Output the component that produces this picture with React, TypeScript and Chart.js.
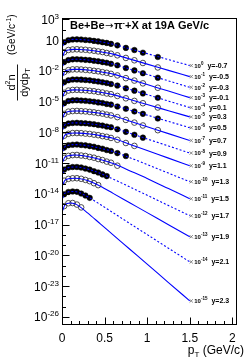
import React, { useEffect, useRef } from "react";
import { Chart, registerables } from "chart.js";

Chart.register(...registerables);

// ---------- data ----------
const rapidityLabels = ["-0.7", "-0.5", "-0.3", "-0.1", "0.1", "0.3", "0.5", "0.7", "0.9", "1.1", "1.3", "1.5", "1.7", "1.9", "2.1", "2.3"];
const scaleExponents = [0, -1, -2, -3, -4, -5, -6, -7, -8, -9, -10, -11, -12, -13, -14, -15];

const dataPt = [0.025, 0.075, 0.125, 0.175, 0.225, 0.275, 0.325, 0.375, 0.425, 0.475, 0.525, 0.575, 0.65, 0.75, 0.85, 0.95, 1.125];
const fitPt = [0.01, 0.03, 0.06, 0.1, 0.15, 0.2, 0.3, 0.45, 0.6, 0.8, 1.0, 1.25, 1.5];

// measured points (unscaled)
const dataYm07 = [6.1, 9.6, 11.3, 11.4, 11.1, 10.1, 9.4, 8.2, 7.3, 6.1, 5.2, 4.2, 3.0, 1.7, 1.05, 0.58, 0.22];
const dataYm05 = [6.4, 10.6, 11.9, 12.4, 11.6, 11.1, 9.9, 9.0, 7.7, 6.7, 5.4, 4.6, 3.2, 1.78, 1.05, 0.57, 0.21];
const dataYm03 = [7.0, 11.0, 13.0, 13.1, 12.7, 11.6, 10.8, 9.4, 8.4, 7.0, 6.0, 4.8, 3.4, 1.85, 1.08, 0.57, 0.21];
const dataYm01 = [7.3, 11.5, 13.6, 13.7, 13.3, 12.2, 11.3, 9.9, 8.8, 7.3, 6.3, 5.0, 3.5, 1.9, 1.1, 0.59, 0.22];
const dataYp01 = [7.5, 11.8, 13.9, 14.0, 13.6, 12.5, 11.6, 10.1, 9.0, 7.5, 6.4, 5.1, 3.6, 1.95, 1.15, 0.62, 0.23];
const dataYp03 = [7.1, 11.8, 13.4, 13.9, 13.1, 12.4, 11.1, 10.1, 8.6, 7.5, 6.1, 5.2, 3.5, 2.05, 1.15, 0.68, 0.26];
const dataYp05 = [6.8, 11.3, 12.8, 13.3, 12.5, 11.8, 10.6, 9.6, 8.2, 7.2, 5.8, 5.0, 3.3, 1.95, 1.07, 0.63, 0.22];
const dataYp07 = [6.2, 10.3, 11.6, 12.1, 11.4, 10.8, 9.7, 8.8, 7.5, 6.6, 5.3, 4.4, 3.0, 1.6, 0.88, 0.46, 0.16];
const dataYp09 = [4.3, 7.2, 8.0, 8.4, 7.8, 7.5, 6.7, 6.1, 5.1, 4.5, 3.6, 3.1, 2.0, 1.1, 0.57, 0.3];
const dataYp11 = [4.6, 7.1, 8.4, 8.4, 8.2, 7.4, 6.9, 5.9, 5.2, 4.2, 3.6, 2.8, 1.85, 0.9, 0.47];
const dataYp13 = [3.2, 5.5, 6.1, 6.4, 5.8, 5.3, 4.5, 3.9, 3.0, 2.5, 1.85, 1.5, 0.93, 0.48];
const dataYp15 = [3.2, 5.0, 5.9, 6.1, 5.4, 4.9, 3.9, 3.3, 2.45, 1.95, 1.38, 1.07, 0.55];
const dataYp17 = [2.3, 3.6, 4.1, 4.1, 3.7, 2.9, 2.3, 1.6, 1.2, 0.78, 0.53];
const dataYp19 = [1.9, 2.85, 3.25, 3.3, 2.9, 2.25, 1.7, 1.08, 0.7];
const dataYp21 = [0.89, 1.51, 1.7, 1.55, 1.05, 0.68, 0.4];
const dataYp23 = [0.63, 1.2, 1.26, 0.89, 0.47];

// fitted curves (unscaled)
const fitYm07 = [2.6, 6.6, 9.1, 10.7, 11.5, 11.2, 9.8, 6.8, 3.9, 1.35, 0.47, 0.123, 0.032];
const fitYm05 = [2.75, 7.1, 9.8, 11.5, 12.3, 12.0, 10.5, 7.2, 4.2, 1.36, 0.444, 0.109, 0.0269];
const fitYm03 = [2.95, 7.6, 10.5, 12.3, 13.2, 12.9, 11.2, 7.8, 4.5, 1.4, 0.438, 0.103, 0.024];
const fitYm01 = [3.1, 7.9, 11.0, 12.9, 13.8, 13.5, 11.7, 8.1, 4.7, 1.45, 0.449, 0.104, 0.024];
const fitYp01 = [3.16, 8.1, 11.2, 13.2, 14.1, 13.8, 12.0, 8.3, 4.8, 1.5, 0.47, 0.11, 0.0257];
const fitYp03 = [3.1, 7.9, 11.0, 12.9, 13.8, 13.5, 11.7, 8.1, 4.7, 1.54, 0.51, 0.127, 0.0316];
const fitYp05 = [2.95, 7.6, 10.5, 12.3, 13.2, 12.9, 11.2, 7.8, 4.5, 1.45, 0.47, 0.115, 0.028];
const fitYp07 = [2.7, 6.9, 9.5, 11.2, 12.0, 11.7, 10.2, 7.1, 4.1, 1.19, 0.346, 0.074, 0.0158];
const fitYp09 = [1.86, 4.8, 6.6, 7.8, 8.3, 8.1, 7.1, 4.9, 2.8, 0.79, 0.224, 0.046, 0.0095];
const fitYp11 = [1.9, 4.9, 6.8, 7.9, 8.5, 8.3, 7.1, 4.75, 2.57, 0.65, 0.167, 0.03, 0.0055];
const fitYp13 = [1.41, 3.6, 5.0, 5.9, 6.3, 6.1, 4.9, 2.75, 1.32, 0.32, 0.071, 0.0105, 0.0015];
const fitYp15 = [1.35, 3.5, 4.8, 5.6, 6.0, 5.75, 4.4, 2.2, 0.89, 0.17, 0.0316, 0.0032, 0.00033];
const fitYp17 = [0.93, 2.4, 3.3, 3.9, 4.17, 3.98, 2.63, 0.98, 0.275, 0.045, 0.0072, 0.00072, 7.2e-5];
const fitYp19 = [0.71, 1.9, 2.63, 3.1, 3.31, 3.1, 1.95, 0.55, 0.11, 0.0126, 0.00145, 9.5e-5, 6.5e-6];
const fitYp21 = [0.38, 1.0, 1.38, 1.66, 1.66, 1.32, 0.525, 0.089, 0.0141, 0.0012, 1.05e-4, 4.9e-6, 2.3e-7];
const fitYp23 = [0.25, 0.71, 1.12, 1.26, 1.05, 0.63, 0.138, 0.0117, 0.001, 3.7e-5, 1.38e-6, 2.2e-8, 3.6e-10];

const pointSeries = [dataYm07, dataYm05, dataYm03, dataYm01, dataYp01, dataYp03, dataYp05, dataYp07, dataYp09, dataYp11, dataYp13, dataYp15, dataYp17, dataYp19, dataYp21, dataYp23];
const fitSeries = [fitYm07, fitYm05, fitYm03, fitYm01, fitYp01, fitYp03, fitYp05, fitYp07, fitYp09, fitYp11, fitYp13, fitYp15, fitYp17, fitYp19, fitYp21, fitYp23];

const xTickValues = [0, 0.5, 1, 1.5, 2];
const xTickLabels = ["0", "0.5", "1", "1.5", "2"];
const yTickExponents = [-26, -23, -20, -17, -14, -11, -8, -5, -2, 1, 3];

const FONT = '"Liberation Sans", Arial, Helvetica, sans-serif';
const SYMBOL_FONT = '"DejaVu Sans", sans-serif';
const BLUE = "#0000ff";

function textWithSup(ctx: CanvasRenderingContext2D, x: number, y: number, base: string, sup: string, size: number, supSize: number, weight: string, align: "left" | "right", raise: number) {
  ctx.font = `${weight} ${size}px ${FONT}`;
  const wb = ctx.measureText(base).width;
  ctx.font = `${weight} ${supSize}px ${FONT}`;
  const ws = sup ? ctx.measureText(sup).width : 0;
  const x0 = align === "right" ? x - wb - ws : x;
  ctx.textAlign = "left";
  ctx.textBaseline = "alphabetic";
  ctx.font = `${weight} ${size}px ${FONT}`;
  ctx.fillText(base, x0, y);
  if (sup) {
    ctx.font = `${weight} ${supSize}px ${FONT}`;
    ctx.fillText(sup, x0 + wb, y - raise);
  }
  return x0 + wb + ws;
}

const rootStyle = {
  id: "rootStyle",
  afterDatasetsDraw(chart: any) {
    const { ctx, chartArea: a, scales } = chart;
    const xs = scales.x;
    const ys = scales.y;
    ctx.save();
    ctx.fillStyle = "#000";
    ctx.strokeStyle = "#000";
    ctx.lineWidth = 1;

    // frame
    ctx.strokeRect(Math.round(a.left) + 0.5, Math.round(a.top) + 0.5, Math.round(a.right - a.left), Math.round(a.bottom - a.top));

    // x ticks
    const bottom = Math.round(a.bottom) + 0.5;
    for (let i = 0; i <= 20; i++) {
      const v = i / 10;
      const px = Math.round(xs.getPixelForValue(v)) + 0.5;
      const len = i % 5 === 0 ? 7 : 3.5;
      ctx.beginPath();
      ctx.moveTo(px, bottom);
      ctx.lineTo(px, bottom - len);
      ctx.stroke();
    }
    // y ticks
    const left = Math.round(a.left) + 0.5;
    for (let e = -26; e <= 3; e++) {
      const py = Math.round(ys.getPixelForValue(Math.pow(10, e))) + 0.5;
      const major = yTickExponents.includes(e);
      ctx.beginPath();
      ctx.moveTo(left, py);
      ctx.lineTo(left + (major ? 7 : 3.5), py);
      ctx.stroke();
    }

    // x tick labels
    ctx.font = `12px ${FONT}`;
    ctx.textAlign = "center";
    ctx.textBaseline = "alphabetic";
    xTickValues.forEach((v, i) => {
      ctx.fillText(xTickLabels[i], xs.getPixelForValue(v), 341.5);
    });

    // y tick labels
    yTickExponents.forEach((e) => {
      const py = ys.getPixelForValue(Math.pow(10, e));
      const sup = e === 1 ? "" : String(e);
      textWithSup(ctx, 59, py + 4.5, "10", sup, 12, 8, "normal", "right", 5);
    });

    // x axis title
    {
      ctx.font = `12px ${FONT}`;
      const w1 = ctx.measureText("p").width;
      const w3 = ctx.measureText(" (GeV/c)").width;
      ctx.font = `8px ${FONT}`;
      const w2 = ctx.measureText("T").width;
      const right = 244;
      const x0 = right - w1 - w2 - w3;
      const base = 354;
      ctx.textAlign = "left";
      ctx.font = `12px ${FONT}`;
      ctx.fillText("p", x0, base);
      ctx.font = `8px ${FONT}`;
      ctx.fillText("T", x0 + w1, base + 3);
      ctx.font = `12px ${FONT}`;
      ctx.fillText(" (GeV/c)", x0 + w1 + w2, base);
    }

    // y axis title (rotated)
    {
      ctx.save();
      ctx.rotate(-Math.PI / 2);
      // local (u, v) = (-screenY, screenX)
      ctx.textAlign = "left";
      ctx.font = `10px ${FONT}`;
      let u = -55;
      ctx.fillText("(GeV/c", u, 15);
      u += ctx.measureText("(GeV/c").width;
      ctx.font = `7px ${FONT}`;
      ctx.fillText("-1", u, 11);
      u += ctx.measureText("-1").width;
      ctx.font = `10px ${FONT}`;
      ctx.fillText(")", u, 15);

      // numerator d^2 n
      ctx.font = `11px ${FONT}`;
      const wd = ctx.measureText("d").width;
      const wn = ctx.measureText("n").width;
      ctx.font = `7px ${FONT}`;
      const w2 = ctx.measureText("2").width;
      const numW = wd + w2 + wn;
      const un = -82.5 - numW / 2;
      ctx.font = `11px ${FONT}`;
      ctx.fillText("d", un, 14.5);
      ctx.font = `7px ${FONT}`;
      ctx.fillText("2", un + wd, 10);
      ctx.font = `11px ${FONT}`;
      ctx.fillText("n", un + wd + w2, 14.5);

      // fraction bar
      ctx.lineWidth = 0.9;
      ctx.beginPath();
      ctx.moveTo(-100.5, 17.5);
      ctx.lineTo(-64.5, 17.5);
      ctx.stroke();

      // denominator dydp_T
      ctx.font = `11px ${FONT}`;
      const wdd = ctx.measureText("dydp").width;
      ctx.font = `8px ${FONT}`;
      const wt = ctx.measureText("T").width;
      const ud = -82.5 - (wdd + wt) / 2;
      ctx.font = `11px ${FONT}`;
      ctx.fillText("dydp", ud, 27.5);
      ctx.font = `8px ${FONT}`;
      ctx.fillText("T", ud + wdd, 30);
      ctx.restore();
    }

    // title
    {
      const base = 29;
      let x = 70;
      ctx.textAlign = "left";
      ctx.font = `bold 11px ${FONT}`;
      ctx.fillText("Be+Be", x, base);
      x += ctx.measureText("Be+Be").width + 0.5;
      ctx.font = `10px ${SYMBOL_FONT}`;
      ctx.fillText("\u2192", x, base - 0.5);
      x += ctx.measureText("\u2192").width + 0.5;
      ctx.font = `bold 11px ${FONT}`;
      ctx.fillText("\u03c0", x, base);
      x += ctx.measureText("\u03c0").width;
      ctx.font = `bold 8px ${FONT}`;
      ctx.fillText("-", x, base - 4.5);
      x += ctx.measureText("-").width;
      ctx.font = `bold 11px ${FONT}`;
      ctx.fillText("+X at 19A GeV/c", x, base);
    }

    // series labels at the end of every fit curve
    fitSeries.forEach((f, k) => {
      const ex = xs.getPixelForValue(fitPt[fitPt.length - 1]);
      const ey = ys.getPixelForValue(f[f.length - 1] * Math.pow(10, scaleExponents[k]));
      ctx.strokeStyle = "#666";
      ctx.lineWidth = 0.8;
      const cx = ex + 1.5;
      ctx.beginPath();
      ctx.moveTo(cx - 1.6, ey - 1.6);
      ctx.lineTo(cx + 1.6, ey + 1.6);
      ctx.moveTo(cx - 1.6, ey + 1.6);
      ctx.lineTo(cx + 1.6, ey - 1.6);
      ctx.stroke();
      ctx.fillStyle = "#000";
      const end = textWithSup(ctx, ex + 4.5, ey + 2.3, "10", String(scaleExponents[k]), 6, 4.5, "bold", "left", 2.8);
      ctx.font = `bold 7px ${FONT}`;
      ctx.textAlign = "left";
      ctx.fillText("y=" + rapidityLabels[k], end + 4, ey + 2.5);
    });

    ctx.restore();
  },
};

export default function App() {
  const canvasRef = useRef<HTMLCanvasElement | null>(null);

  useEffect(() => {
    document.body.style.margin = "0";
    const canvas = canvasRef.current;
    if (!canvas) return;

    const datasets: any[] = [];
    fitSeries.forEach((f, k) => {
      const s = Math.pow(10, scaleExponents[k]);
      datasets.push({
        type: "line",
        data: fitPt.map((p, i) => ({ x: p, y: f[i] * s })),
        borderColor: BLUE,
        borderWidth: 1.1,
        borderDash: k % 2 === 0 ? [2, 2] : [],
        pointRadius: 0,
        cubicInterpolationMode: "monotone",
        fill: false,
        order: 0,
      });
    });
    pointSeries.forEach((d, k) => {
      const s = Math.pow(10, scaleExponents[k]);
      const filled = k % 2 === 0;
      datasets.push({
        type: "line",
        data: d.map((v, i) => ({ x: dataPt[i], y: v * s })),
        showLine: false,
        pointStyle: "circle",
        pointRadius: 2.8,
        pointBackgroundColor: filled ? "#000" : "rgba(0,0,0,0)",
        pointBorderColor: filled ? "#000" : "#3a3a3a",
        pointBorderWidth: filled ? 0.5 : 0.9,
        order: 1,
      });
    });

    const chart = new Chart(canvas, {
      type: "line",
      data: { datasets },
      options: {
        responsive: false,
        animation: false,
        devicePixelRatio: 1,
        events: [],
        layout: { padding: { left: 62, right: 13, top: 18, bottom: 37 } },
        plugins: { legend: { display: false }, tooltip: { enabled: false }, title: { display: false } },
        scales: {
          x: { type: "linear", min: 0, max: 2.043, display: false },
          y: { type: "logarithmic", min: Math.pow(10, -26.7), max: Math.pow(10, 3.146), display: false },
        },
      },
      plugins: [rootStyle],
    } as any);

    return () => chart.destroy();
  }, []);

  return (
    <div style={{ width: 249, height: 361, background: "#fff" }}>
      <canvas ref={canvasRef} width={249} height={361} style={{ display: "block", width: 249, height: 361 }} />
    </div>
  );
}
